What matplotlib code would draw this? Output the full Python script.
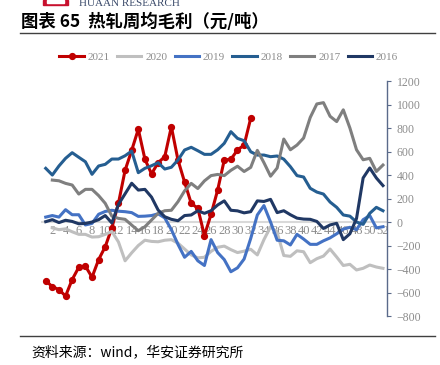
import matplotlib.pyplot as plt
import numpy as np
from matplotlib.patches import Rectangle
from matplotlib.lines import Line2D

plt.rcParams['font.family'] = ['Liberation Serif', 'Noto Sans CJK SC']

weeks = np.arange(1, 53)
nan = np.nan

# weekly gross margin, yuan/ton
y2021 = [-500, -550, -575, -630, -490, -385, -375, -470, -320, -210, -50, 160,
         440, 610, 790, 535, 410, 505, 556, 811, 528, 340, 159, 117, -115, 65,
         272, 528, 534, 613, 655, 883]
y2020 = [nan, -50, -65, -58, -83, -105, -105, -128, -125, -105, -80, -170, -330,
         -262, -200, -155, -165, -168, -155, -150, -180, -230, -280, -305, -300,
         -250, -215, -205, -235, -260, -248, -232, -280, -150, -40, -90, -285,
         -292, -245, -253, -346, -312, -290, -230, -298, -370, -360, -408, -394,
         -366, -383, -394]
y2019 = [42, 55, 42, 105, 62, 62, -25, -12, 66, 90, 100, 92, 88, 80, 48, 50, 55,
         70, 35, -65, -190, -300, -250, -330, -370, -150, -260, -320, -423, -390,
         -315, -140, 60, 140, 0, -155, -160, -195, -105, -145, -190, -190, -160,
         -135, -100, -60, -45, -65, 20, 55, -50, -40]
y2018 = [457, 400, 477, 542, 590, 551, 513, 406, 477, 491, 536, 536, 564, 604,
         420, 457, 479, 505, 451, 466, 528, 613, 636, 607, 576, 576, 615, 670,
         769, 712, 692, 598, 570, 570, 556, 562, 535, 471, 395, 383, 287, 255,
         238, 170, 125, 60, 50, 0, -20, 74, 125, 96]
y2017 = [nan, 357, 351, 329, 315, 238, 278, 278, 225, 159, 50, 31, 23, -26, -74,
         -40, 17, 74, 96, 100, 173, 265, 329, 285, 350, 395, 405, 395, 440, 475,
         430, 465, 610, 505, 390, 460, 706, 615, 655, 715, 890, 1005, 1016, 900,
         855, 955, 800, 615, 530, 542, 430, 485]
y2016 = [3, 20, -5, 15, 5, -15, -12, 0, 20, 55, -8, 150, 240, 330, 272, 278, 212,
         102, 45, 23, 11, 55, 60, 96, 74, 96, 145, 180, 100, 95, 78, 88, 180, 175,
         193, 80, 96, 62, 33, 25, 23, 5, -55, -25, -11, -150, -100, 30, 375, 460,
         375, 310]

series = [
    ('2021', y2021, '#C00000'),
    ('2020', y2020, '#BFBFBF'),
    ('2019', y2019, '#4472C4'),
    ('2018', y2018, '#255E91'),
    ('2017', y2017, '#7F7F7F'),
    ('2016', y2016, '#203864'),
]

fig = plt.figure(figsize=(4.4, 3.65), dpi=100)
ax = fig.add_axes([0.0964, 0.1342, 0.783, 0.6438])

for name, vals, col in series:
    w = weeks[:len(vals)]
    if name == '2021':
        ax.plot(w, vals, color=col, lw=2.2, marker='o', ms=4.2, label=name)
    else:
        ax.plot(w, vals, color=col, lw=2.2, label=name)

ax.set_xlim(0.5, 52.6)
ax.set_ylim(-800, 1200)

# right value axis
ax.yaxis.tick_right()
ax.set_yticks(np.arange(-800, 1201, 200))
ax.tick_params(axis='y', direction='out', length=3, color='#5A6A8A',
               labelcolor='#8C8C8C', labelsize=8.5, pad=4)
for s in ['top', 'left']:
    ax.spines[s].set_visible(False)
ax.spines['right'].set_color('#5A6A8A')
ax.spines['right'].set_linewidth(1.0)

# week axis crossing at zero
ax.spines['bottom'].set_position(('data', 0))
ax.spines['bottom'].set_color('#D9D9D9')
ax.spines['bottom'].set_linewidth(1.5)
ax.spines['bottom'].set_zorder(0)
ax.set_xticks(np.arange(2, 53, 2))
ax.tick_params(axis='x', length=0, labelcolor='#8C8C8C', labelsize=9, pad=2)

handles = []
for name, vals, col in series:
    if name == '2021':
        handles.append(Line2D([], [], color=col, lw=2.2, marker='o', ms=4.2))
    else:
        handles.append(Line2D([], [], color=col, lw=2.2))
fig.legend(handles, [s[0] for s in series], loc='center', ncol=6,
           bbox_to_anchor=(0.52, 0.844), frameon=False, fontsize=8,
           handlelength=2.2, handletextpad=0.35, columnspacing=0.65,
           labelcolor='#8C8C8C')

# header / footer
fig.text(21 / 440, 1 - 22 / 365, '图表 65  热轧周均毛利（元/吨）', fontsize=12.5,
         fontweight='bold', va='center', ha='left',
         family=['Noto Sans CJK SC', 'DejaVu Sans'])
fig.add_artist(Line2D([20 / 440, 435 / 440], [1 - 33 / 365] * 2,
                      color='#404040', lw=1.0))
fig.add_artist(Line2D([20 / 440, 435 / 440], [1 - 336 / 365] * 2,
                      color='#404040', lw=1.0))
fig.text(31 / 440, 1 - 352 / 365, '资料来源：wind，华安证券研究所', fontsize=10,
         va='center', ha='left', family=['Noto Sans CJK SC', 'DejaVu Sans'])

fig.text(79 / 440, 1 - 8 / 365, 'HUAAN RESEARCH', fontsize=8, va='bottom',
         ha='left', color='#3A4A6A')
fig.add_artist(Rectangle((43 / 440, 1 - 5 / 365), 25 / 440, 5 / 365,
                         color='#C8102E', transform=fig.transFigure))
fig.add_artist(Rectangle((47 / 440, 1 - 3 / 365), 17 / 440, 3 / 365,
                         color='white', transform=fig.transFigure))

fig.savefig('out.png', dpi=100)
